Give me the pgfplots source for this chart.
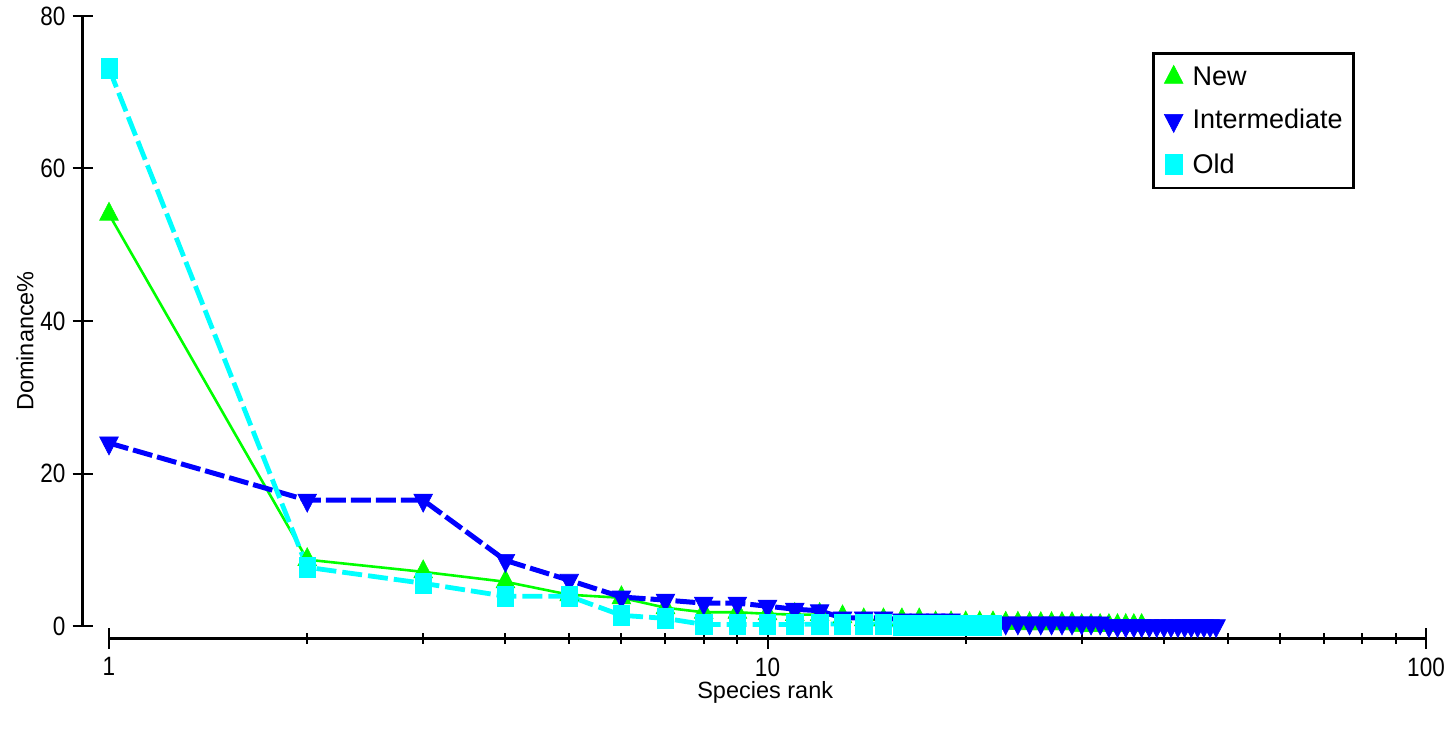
\documentclass[border=0pt]{standalone}
\usepackage{fontspec}
\setmainfont{Liberation Sans}
\usepackage{graphicx}
\usepackage{pgfplots}
\pgfplotsset{compat=1.18}
\definecolor{cgreen}{RGB}{0,255,0}
\definecolor{cblue}{RGB}{0,0,255}
\definecolor{ccyan}{RGB}{0,255,255}
\newcommand{\tl}[1]{\scalebox{0.85}[1]{#1}}

\pgfplotstableread{
x y
1 54
2 8.7
3 7.1
4 5.8
5 4.1
6 3.7
7 2.4
8 1.8
9 1.8
10 1.6
11 1.5
12 1.5
13 1.2
14 0.8
15 0.8
16 0.8
17 0.8
18 0.4
19 0.4
20 0.4
21 0.4
22 0.4
23 0.35
24 0.35
25 0.3
26 0.3
27 0.3
28 0.3
29 0.3
30 0.05
31 0.05
32 0.05
33 0.05
34 0.05
35 0.05
36 0.05
37 0.05
}\newdata

\pgfplotstableread{
x y
1 24.0
2 16.5
3 16.5
4 8.6
5 6.0
6 3.8
7 3.4
8 3.0
9 3.0
10 2.6
11 2.2
12 2.0
13 1.05
14 1.05
15 1.05
16 0.8
17 0.8
18 0.8
19 0.8
20 0.4
21 0.4
22 0.4
23 0.4
24 0.4
25 0.4
26 0.4
27 0.4
28 0.4
29 0.4
30 0.4
31 0.4
32 0.4
33 0.05
34 0.05
35 0.05
36 0.05
37 0.05
38 0.05
39 0.05
40 0.05
41 0.05
42 0.05
43 0.05
44 0.05
45 0.05
46 0.05
47 0.05
48 0.05
}\interdata

\pgfplotstableread{
x y
1 73.1
2 7.7
3 5.6
4 3.9
5 3.9
6 1.4
7 1.0
8 0.2
9 0.2
10 0.2
11 0.2
12 0.25
13 0.25
14 0.25
15 0.25
16 0.05
17 0.05
18 0.05
19 0.05
20 0.05
21 0.05
22 0.05
}\olddata

\begin{document}
\begin{tikzpicture}
\useasboundingbox (-41.5pt,-46pt) rectangle (684pt,319pt);
\begin{axis}[
  at={(0,0)}, anchor=south west,
  scale only axis, width=671.5pt, height=311pt,
  xmode=log, xmin=0.9131, xmax=100, ymin=-1.574, ymax=80,
  axis lines=left, axis line style={draw=none},
  clip=false,
  xtick={1,10,100}, xticklabels={\tl{1},\tl{10},\tl{100}},
  minor xtick={2,3,4,5,6,7,8,9,20,30,40,50,60,70,80,90},
  ytick={0,20,40,60,80}, yticklabels={\tl{0},\tl{20},\tl{40},\tl{60},\tl{80}},
  tick align=center, major tick length=10.5pt, minor tick length=5.5pt,
  every tick/.style={black, line width=1pt},
  tick label style={font=\fontsize{13.25}{15}\selectfont},
  xticklabel style={yshift=-1pt},
  every axis x label/.style={at={(rel axis cs:0.508,-0.088)}, anchor=center, font=\fontsize{11.75}{14}\selectfont},
  every axis y label/.style={at={(rel axis cs:-0.0432,0.4775)}, anchor=center, rotate=90, font=\fontsize{11.75}{14}\selectfont},
  xlabel={Species rank}, ylabel={Dominance\%},
  legend cell align=left,
  legend image code/.code={\draw[#1, only marks] plot coordinates {(0pt,0pt)};},
  legend style={at={(rel axis cs:0.796,0.942)}, anchor=north west,
    draw=black, line width=1.3pt, fill=white,
    font=\fontsize{13.5}{16}\selectfont,
    nodes={inner sep=0pt},
    /tikz/column sep=4.8pt, /tikz/row sep=10.5pt,
    inner xsep=5.5pt, inner ysep=6pt},
]
\addplot[cgreen, line width=1.3pt, mark=triangle*, mark size=6pt,
  mark options={solid, fill=cgreen, draw=cgreen, line width=0.3pt, xscale=0.9}]
  table[x=x,y=y] {\newdata};
\addlegendentry{New}
\addplot[cblue, line width=2.5pt, dash pattern=on 10pt off 2.5pt, mark=triangle*, mark size=6pt,
  mark options={solid, fill=cblue, draw=cblue, line width=0.3pt, rotate=180, xscale=0.9}]
  table[x=x,y=y] {\interdata};
\addlegendentry{Intermediate}
\addplot[ccyan, line width=2.4pt, dash pattern=on 10pt off 3pt, mark=square*, mark size=5pt,
  mark options={solid, fill=ccyan, draw=ccyan, line width=0.3pt, xscale=0.82}]
  table[x=x,y=y] {\olddata};
\addlegendentry{Old}
\draw[black, line width=1.5pt] (axis cs:1,-1.574) -- (axis cs:100,-1.574);
\draw[black, line width=1.5pt] (axis cs:0.9131,0) -- (axis cs:0.9131,80);
\end{axis}
\end{tikzpicture}
\end{document}
